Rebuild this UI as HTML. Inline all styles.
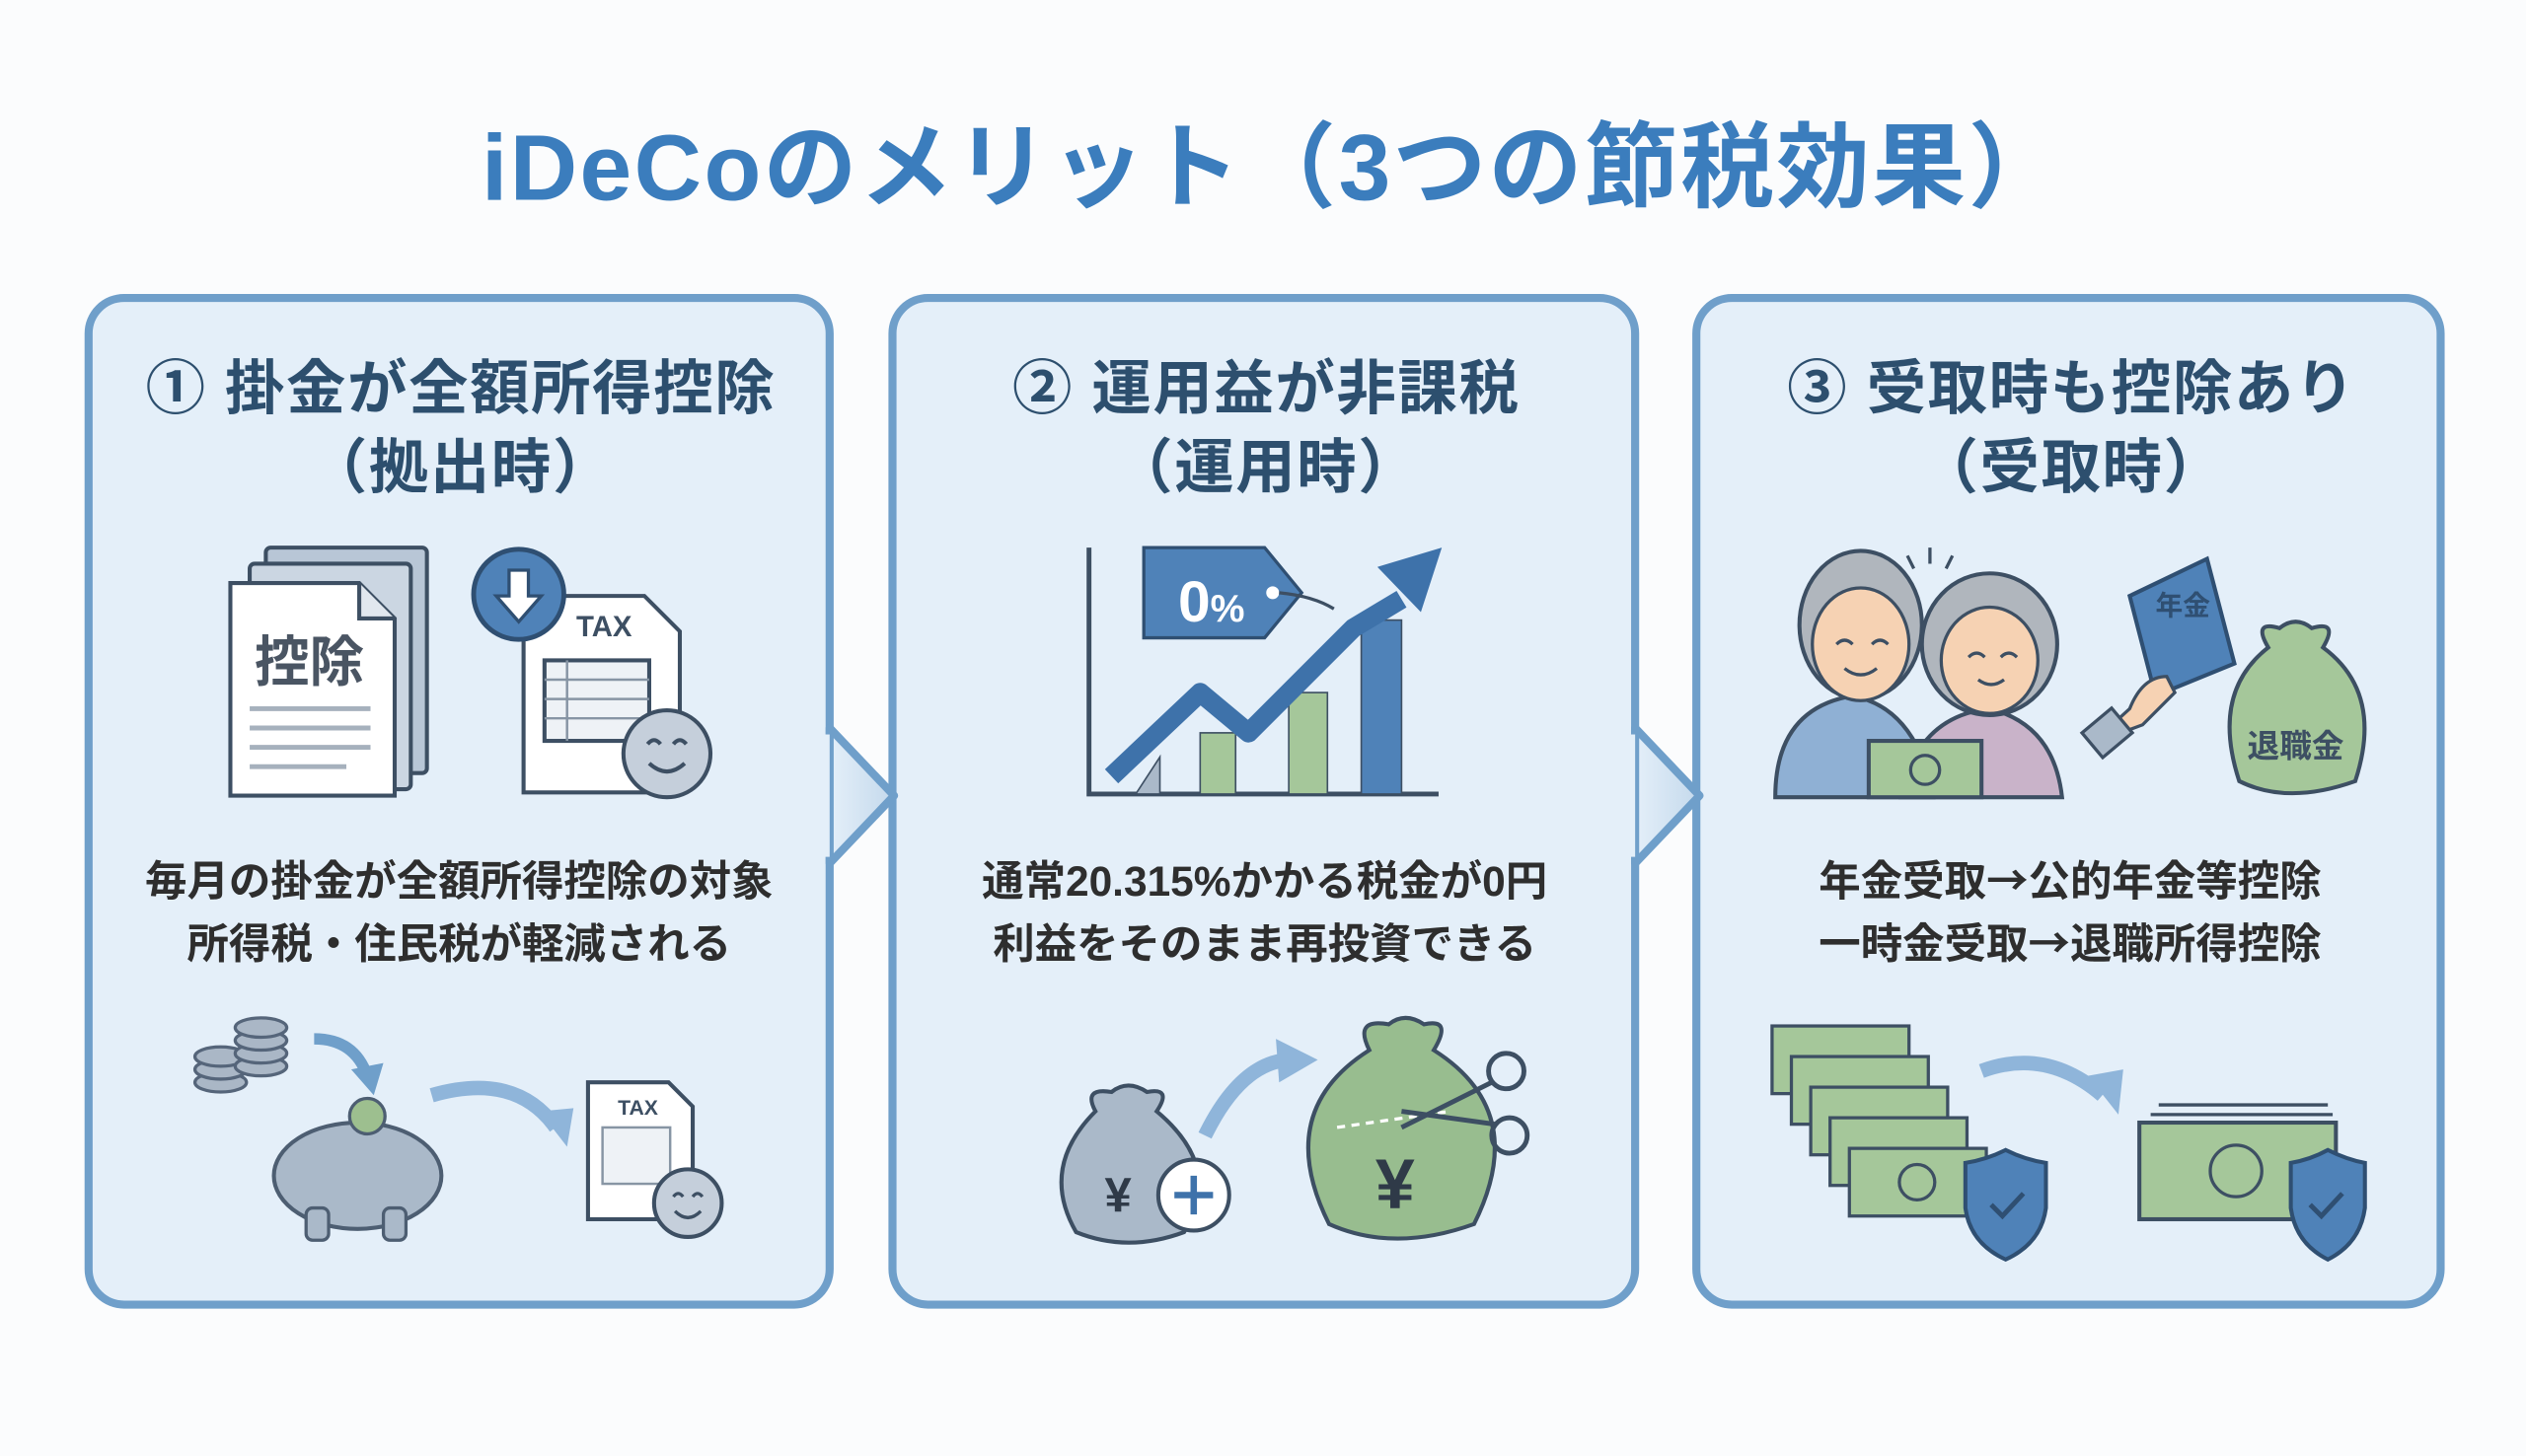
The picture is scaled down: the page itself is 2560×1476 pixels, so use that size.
<!DOCTYPE html>
<html><head><meta charset="utf-8"><style>
html,body{margin:0;padding:0;background:#fbfcfd;}
svg{display:block;}
text{font-family:"Liberation Sans","Noto Sans CJK JP",sans-serif;font-weight:bold;}
.arr{font-family:"Noto Sans CJK JP",sans-serif;}
</style></head><body>
<svg width="2560" height="1476" viewBox="0 0 1568 904" preserveAspectRatio="none" xmlns="http://www.w3.org/2000/svg">
<defs>
<linearGradient id="chev" x1="0" x2="1" y1="0" y2="0"><stop offset="0" stop-color="#e4eff9"/><stop offset="1" stop-color="#c4d9ec"/></linearGradient>
</defs>
<rect width="1568" height="904" fill="#fbfcfd"/>
<text x="790" y="124" text-anchor="middle" font-size="58" fill="#3b7dbd" letter-spacing="1.5">iDeCoのメリット（3つの節税効果）</text>

<g stroke="#6f9fca" stroke-width="5" fill="#e4eff9">
<rect x="55" y="185" width="460" height="625" rx="22"/>
<rect x="554" y="185" width="461" height="625" rx="22"/>
<rect x="1053" y="185" width="462" height="625" rx="22"/>
</g>
<g stroke="#6f9fca" stroke-width="5" fill="url(#chev)" stroke-linejoin="round">
<path d="M515 452 L555 494 L515 536 Z"/>
<path d="M1015 452 L1055 494 L1015 536 Z"/>
</g>
<g fill="#e4eff9"><rect x="510" y="456" width="5" height="76"/><rect x="1010" y="456" width="5" height="76"/></g>

<g font-size="37" fill="#2d4f6e" text-anchor="middle" letter-spacing="1">
<text x="286" y="254">① 掛金が全額所得控除</text>
<text x="286" y="303">（拠出時）</text>
<text x="786" y="254">② 運用益が非課税</text>
<text x="786" y="303">（運用時）</text>
<text x="1286" y="254">③ 受取時も控除あり</text>
<text x="1286" y="303">（受取時）</text>
</g>
<g font-size="26" fill="#2e2e2e" text-anchor="middle">
<text x="285" y="556">毎月の掛金が全額所得控除の対象</text>
<text x="285" y="595">所得税・住民税が軽減される</text>
<text x="785" y="556">通常20.315%かかる税金が0円</text>
<text x="785" y="595">利益をそのまま再投資できる</text>
<text x="1285" y="556">年金受取<tspan class="arr">→</tspan>公的年金等控除</text>
<text x="1285" y="595">一時金受取<tspan class="arr">→</tspan>退職所得控除</text>
</g>

<!-- Panel1 icons -->
<g stroke="#3d4f63" stroke-width="2.5">
<rect x="165" y="340" width="100" height="140" rx="3" fill="#b8c6d6"/>
<rect x="155" y="350" width="100" height="140" rx="3" fill="#cbd6e2"/>
<path d="M143 362 H223 L245 384 V494 H143 Z" fill="#fff"/>
<path d="M223 362 V384 H245" fill="#e1e7ee"/>
</g>
<text x="192" y="423" text-anchor="middle" font-size="34" fill="#4a5563">控除</text>
<g stroke="#a6b1bd" stroke-width="3"><line x1="155" y1="440" x2="230" y2="440"/><line x1="155" y1="452" x2="230" y2="452"/><line x1="155" y1="464" x2="230" y2="464"/><line x1="155" y1="476" x2="215" y2="476"/></g>
<g stroke="#3d4f63" stroke-width="2.5" fill="#fff">
<path d="M325 370 H400 L422 392 V492 H325 Z"/>
<rect x="338" y="410" width="65" height="50" fill="#eef2f6"/>
</g>
<g stroke="#8795a4" stroke-width="1.5"><line x1="338" y1="422" x2="403" y2="422"/><line x1="338" y1="434" x2="403" y2="434"/><line x1="338" y1="446" x2="403" y2="446"/><line x1="352" y1="410" x2="352" y2="460"/></g>
<text x="375" y="395" text-anchor="middle" font-size="18" fill="#3d4f63">TAX</text>
<circle cx="322" cy="369" r="28" fill="#4f82b8" stroke="#2f4f72" stroke-width="3"/>
<path d="M316 354 H328 V370 H336 L322 386 L308 370 H316 Z" fill="#fff" stroke="#2f4f72" stroke-width="2"/>
<circle cx="414" cy="468" r="27" fill="#c5cfdb" stroke="#3d4f63" stroke-width="2.5"/>
<path d="M402 462 q4 -5 8 0 M418 462 q4 -5 8 0 M403 474 q11 10 22 0" fill="none" stroke="#3d4f63" stroke-width="2.5"/>
<g fill="#aab7c6" stroke="#55657a" stroke-width="2">
<ellipse cx="137" cy="672" rx="16" ry="6"/><ellipse cx="137" cy="664" rx="16" ry="6"/><ellipse cx="137" cy="656" rx="16" ry="6"/>
<ellipse cx="162" cy="662" rx="16" ry="6"/><ellipse cx="162" cy="654" rx="16" ry="6"/><ellipse cx="162" cy="646" rx="16" ry="6"/><ellipse cx="162" cy="638" rx="16" ry="6"/>
</g>
<path d="M195 645 Q220 645 228 668" fill="none" stroke="#6f9fca" stroke-width="7"/>
<path d="M218 664 L232 680 L238 660 Z" fill="#6f9fca"/>
<ellipse cx="222" cy="730" rx="52" ry="33" fill="#aab9c9" stroke="#4d5e72" stroke-width="2.5"/>
<rect x="190" y="750" width="14" height="20" rx="4" fill="#aab9c9" stroke="#4d5e72" stroke-width="2"/>
<rect x="238" y="750" width="14" height="20" rx="4" fill="#aab9c9" stroke="#4d5e72" stroke-width="2"/>
<circle cx="228" cy="693" r="11" fill="#9dbf8f" stroke="#4d5e72" stroke-width="2"/>
<path d="M268 680 Q320 665 345 700" fill="none" stroke="#8fb5da" stroke-width="9"/>
<path d="M335 690 L352 712 L356 688 Z" fill="#8fb5da"/>
<path d="M365 672 H415 L430 687 V757 H365 Z" fill="#fff" stroke="#3d4f63" stroke-width="2.5"/>
<text x="396" y="692" text-anchor="middle" font-size="13" fill="#3d4f63">TAX</text>
<rect x="374" y="700" width="42" height="35" fill="#eef2f6" stroke="#8795a4" stroke-width="1.5"/>
<circle cx="427" cy="747" r="21" fill="#c5cfdb" stroke="#3d4f63" stroke-width="2.5"/>
<path d="M418 743 q3 -4 6 0 M430 743 q3 -4 6 0 M419 752 q8 8 16 0" fill="none" stroke="#3d4f63" stroke-width="2"/>

<!-- Panel2 icons -->
<path d="M676 340 V493 H893" fill="none" stroke="#3d4f63" stroke-width="3"/>
<g stroke="#3d4f63" stroke-width="1">
<path d="M705 493 L720 470 V493 Z" fill="#aab9c9"/>
<rect x="745" y="455" width="22" height="38" fill="#a5c79a"/>
<rect x="800" y="430" width="24" height="63" fill="#a5c79a"/>
<rect x="845" y="385" width="25" height="108" fill="#4f82b8"/>
</g>
<path d="M690 482 L745 430 L775 455 L840 390 L870 372" fill="none" stroke="#3e72aa" stroke-width="12" stroke-linejoin="round"/>
<path d="M855 352 L895 340 L882 380 Z" fill="#3e72aa"/>
<path d="M710 340 H785 L808 368 L785 396 H710 Z" fill="#4f82b8" stroke="#2f4f72" stroke-width="2"/>
<circle cx="790" cy="368" r="4" fill="#fff"/>
<path d="M794 368 Q815 370 828 378" fill="none" stroke="#3d4f63" stroke-width="2"/>
<text x="752" y="386" text-anchor="middle" font-size="36" fill="#fff">0<tspan font-size="24">%</tspan></text>
<path d="M680 690 Q672 675 690 678 Q700 670 712 678 Q728 675 718 690 Q760 725 735 765 Q700 778 668 765 Q645 725 680 690 Z" fill="#aab9c9" stroke="#3d4f63" stroke-width="2.5"/>
<text x="694" y="752" text-anchor="middle" font-size="30" fill="#2f3a48">¥</text>
<circle cx="741" cy="742" r="22" fill="#fff" stroke="#3d4f63" stroke-width="2.5"/>
<path d="M741 730 V754 M729 742 H753" stroke="#3e72aa" stroke-width="4"/>
<path d="M748 705 Q770 660 800 658" fill="none" stroke="#8fb5da" stroke-width="9"/>
<path d="M792 645 L818 658 L794 672 Z" fill="#8fb5da"/>
<path d="M850 652 Q840 632 862 636 Q872 628 884 636 Q902 632 890 652 Q950 690 915 760 Q865 778 825 760 Q790 690 850 652 Z" fill="#98bd8f" stroke="#3d4f63" stroke-width="2.5"/>
<text x="866" y="750" text-anchor="middle" font-size="44" fill="#2f3a48">¥</text>
<path d="M830 700 L900 690" stroke="#fff" stroke-width="2" stroke-dasharray="5 4"/>
<g fill="none" stroke="#3d4f63" stroke-width="3"><circle cx="935" cy="665" r="11"/><circle cx="937" cy="705" r="11"/><path d="M926 672 L870 700 M928 698 L870 690"/></g>

<!-- Panel3 icons -->
<path d="M1102 495 Q1102 440 1150 432 Q1190 440 1200 495 Z" fill="#8fb0d4" stroke="#3d4f63" stroke-width="2.5"/>
<ellipse cx="1155" cy="388" rx="38" ry="46" fill="#b0b6bd" stroke="#3d4f63" stroke-width="2.5"/>
<ellipse cx="1155" cy="400" rx="30" ry="35" fill="#f6d2b3" stroke="#3d4f63" stroke-width="2"/>
<path d="M1180 495 Q1190 445 1235 440 Q1275 450 1280 495 Z" fill="#c9b3c9" stroke="#3d4f63" stroke-width="2.5"/>
<ellipse cx="1235" cy="400" rx="42" ry="44" fill="#b0b6bd" stroke="#3d4f63" stroke-width="2.5"/>
<ellipse cx="1235" cy="410" rx="30" ry="33" fill="#f6d2b3" stroke="#3d4f63" stroke-width="2"/>
<g fill="none" stroke="#3d4f63" stroke-width="2"><path d="M1140 400 q5 -5 10 0 M1162 400 q5 -5 10 0 M1145 415 q10 8 20 0 M1222 408 q5 -5 10 0 M1242 408 q5 -5 10 0 M1228 422 q8 6 16 0 M1184 345 l4 8 M1198 340 v10 M1212 345 l-4 8"/></g>
<rect x="1160" y="460" width="70" height="35" fill="#a5c79a" stroke="#3d4f63" stroke-width="2.5"/>
<circle cx="1195" cy="478" r="9" fill="none" stroke="#3d4f63" stroke-width="2"/>
<path d="M1322 370 L1370 347 L1387 412 L1338 432 Z" fill="#4f82b8" stroke="#2f4f72" stroke-width="2.5"/>
<text x="1355" y="382" text-anchor="middle" font-size="17" fill="#2f4f72">年金</text>
<path d="M1298 462 L1322 440 Q1330 420 1345 420 L1350 430 L1330 450 Z" fill="#f6d2b3" stroke="#3d4f63" stroke-width="2"/>
<rect x="1296" y="445" width="24" height="20" fill="#aab9c9" stroke="#3d4f63" stroke-width="2" transform="rotate(-40 1308 455)"/>
<path d="M1408 402 Q1398 385 1415 390 Q1425 382 1435 390 Q1452 385 1442 402 Q1480 430 1462 485 Q1420 500 1390 485 Q1372 430 1408 402 Z" fill="#a5c79a" stroke="#3d4f63" stroke-width="2.5"/>
<text x="1425" y="470" text-anchor="middle" font-size="20" fill="#3d4f63">退職金</text>
<g fill="#a5c79a" stroke="#3d4f63" stroke-width="2">
<rect x="1100" y="637" width="85" height="42"/>
<rect x="1112" y="656" width="85" height="42"/>
<rect x="1124" y="675" width="85" height="42"/>
<rect x="1136" y="694" width="85" height="42"/>
<rect x="1148" y="713" width="85" height="42"/>
</g>
<circle cx="1190" cy="734" r="11" fill="none" stroke="#3d4f63" stroke-width="2"/>
<path d="M1230 665 Q1270 650 1305 680" fill="none" stroke="#8fb5da" stroke-width="9"/>
<path d="M1296 668 L1315 692 L1318 664 Z" fill="#8fb5da"/>
<g stroke="#3d4f63" stroke-width="2"><line x1="1340" y1="686" x2="1445" y2="686"/><line x1="1335" y1="692" x2="1448" y2="692"/></g>
<rect x="1328" y="697" width="122" height="60" fill="#a5c79a" stroke="#3d4f63" stroke-width="2.5"/>
<circle cx="1388" cy="727" r="16" fill="none" stroke="#3d4f63" stroke-width="2"/>
<g stroke="#2f4f72" stroke-width="2.5" fill="#4f82b8">
<path d="M1245 722 Q1258 720 1270 714 Q1282 720 1295 722 V750 Q1292 772 1270 782 Q1248 772 1245 750 Z" transform="translate(-25 0)"/>
<path d="M1442 722 Q1454 720 1465 714 Q1477 720 1488 722 V750 Q1485 772 1465 782 Q1445 772 1442 750 Z" transform="translate(-20 0)"/>
</g>
<g fill="none" stroke="#2f4f72" stroke-width="3"><path d="M1236 748 l7 7 l13 -14"/><path d="M1434 748 l7 7 l13 -14"/></g>
</svg>
</body></html>
